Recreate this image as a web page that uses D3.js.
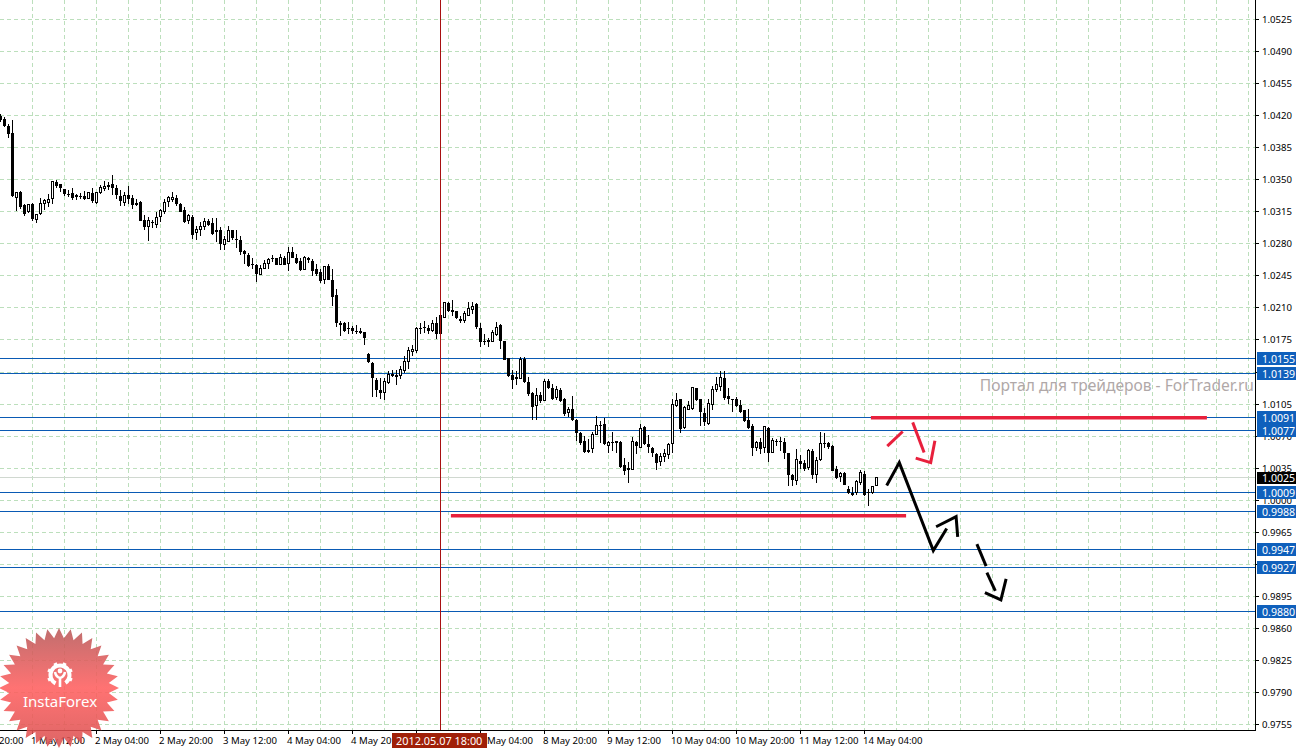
<!DOCTYPE html>
<html><head><meta charset="utf-8">
<style>html,body{margin:0;padding:0;background:#fff;overflow:hidden}text{font-family:"Noto Sans",sans-serif}</style>
<script src="https://cdn.jsdelivr.net/npm/d3@7"></script></head><body><svg id="c" width="1296" height="749"></svg>
<script>
// Prices in pips (price x 10000), one entry per H4 bar
const highs=[10422,10418,10411,10415,10336,10338,10324,10323,10325,10313,10330,10329,10334,10348,10350,10345,10340,10339,10341,10334,10335,10338,10337,10341,10336,10344,10349,10348,10355,10344,10339,10337,10343,10333,10329,10327,10312,10309,10306,10315,10318,10329,10332,10337,10333,10325,10320,10313,10311,10299,10304,10308,10307,10308,10308,10298,10288,10299,
10295,10295,10289,10273,10270,10265,10258,10257,10262,10265,10268,10265,10269,10267,10276,10276,10269,10264,10267,10266,10263,10258,10252,10256,10258,10252,10231,10196,10195,10195,10190,10191,10188,10184,10161,10151,10133,10133,10133,10141,10142,10142,10147,10158,10167,10169,10189,10194,10196,10191,10197,10200,10207,
10217,10216,10219,10207,10201,10207,10217,10216,10215,10193,10182,10177,10186,10195,10192,10174,10155,10142,10141,10156,10156,10135,10118,10122,10118,10132,10132,10127,10125,10122,10112,10102,10114,10089,10074,10070,10067,10074,10092,10086,10090,10065,10075,10065,10065,10046,10042,10069,10065,10083,10081,10071,10058,10051,10051,10056,10062,
10110,10117,10111,10103,10108,10124,10122,10111,10101,10111,10125,10135,10141,10141,10122,10111,10113,10109,10099,10100,10083,10065,10068,10081,10080,10068,10067,10069,10068,10052,10029,10056,10049,10044,10056,10056,10047,10075,10073,10064,10060,10037,10031,10031,10016,10014,10022,10033,10032,10012,10016,10025];
const lows=[10413,10408,10396,10331,10316,10318,10310,10314,10305,10303,10312,10317,10320,10323,10341,10337,10332,10331,10328,10328,10329,10328,10329,10325,10323,10334,10338,10339,10333,10329,10321,10321,10323,10318,10321,10305,10295,10283,10297,10297,10304,10313,10320,10326,10321,10315,10303,10302,10285,10284,10289,10295,10300,10290,10282,10273,10273,10282,
10284,10275,10268,10258,10255,10253,10238,10247,10252,10253,10260,10257,10257,10257,10250,10264,10258,10250,10252,10259,10245,10245,10237,10236,10240,10212,10189,10179,10184,10182,10181,10181,10181,10169,10150,10113,10113,10111,10109,10127,10134,10126,10132,10139,10143,10158,10161,10182,10183,10181,10184,10176,10181,
10199,10205,10201,10198,10194,10194,10201,10203,10187,10167,10169,10167,10173,10179,10165,10153,10134,10121,10126,10132,10128,10114,10088,10088,10106,10108,10121,10109,10109,10107,10092,10091,10087,10065,10060,10052,10052,10051,10072,10062,10060,10052,10054,10051,10035,10027,10019,10033,10050,10057,10060,10051,10047,10033,10037,10042,10045,
10052,10102,10073,10078,10098,10099,10108,10081,10081,10082,10098,10118,10119,10109,10105,10096,10102,10095,10085,10078,10048,10054,10050,10051,10042,10051,10059,10054,10045,10016,10016,10017,10034,10032,10033,10023,10019,10043,10057,10056,10032,10023,10020,10017,10007,10005,10006,10017,10005,9994,10007,10015];
const opens=[10420,10416,10409,10401,10331,10337,10322,10315,10324,10307,10313,10324,10325,10329,10347,10345,10340,10334,10335,10333,10332,10332,10330,10335,10325,10336,10340,10344,10345,10341,10332,10325,10333,10330,10325,10326,10306,10299,10304,10301,10310,10315,10326,10328,10330,10323,10317,10305,10309,10292,10296,10299,10305,10303,10293,10295,10279,10283,
10295,10285,10284,10272,10268,10258,10257,10247,10253,10258,10265,10264,10257,10265,10259,10271,10265,10261,10252,10264,10261,10252,10249,10241,10256,10241,10224,10194,10193,10188,10188,10185,10185,10184,10160,10150,10131,10120,10118,10129,10138,10137,10136,10142,10152,10162,10164,10188,10189,10188,10185,10194,10202,
10200,10215,10208,10207,10198,10196,10202,10208,10214,10188,10174,10175,10173,10181,10191,10174,10155,10137,10134,10133,10154,10129,10117,10103,10115,10109,10130,10123,10112,10120,10110,10096,10100,10088,10073,10065,10055,10056,10072,10082,10083,10060,10064,10065,10064,10038,10033,10034,10064,10058,10080,10061,10057,10050,10042,10048,10050,
10062,10103,10110,10079,10099,10100,10122,10111,10095,10084,10105,10121,10124,10133,10114,10110,10111,10104,10098,10088,10081,10057,10064,10057,10079,10052,10065,10065,10064,10052,10028,10022,10043,10041,10036,10054,10028,10044,10063,10062,10059,10034,10026,10030,10012,10008,10008,10019,10029,10009,10008,10016];
const closes=[10415,10409,10400,10332,10336,10320,10313,10323,10307,10312,10324,10327,10328,10348,10343,10341,10334,10333,10330,10331,10331,10329,10336,10327,10336,10341,10343,10342,10341,10333,10327,10333,10329,10322,10322,10305,10298,10305,10303,10309,10316,10325,10331,10331,10323,10315,10304,10311,10290,10296,10299,10304,10301,10291,10295,10280,10285,10295,
10286,10284,10271,10269,10256,10258,10247,10253,10259,10263,10263,10257,10265,10257,10271,10265,10259,10251,10265,10262,10250,10247,10239,10255,10241,10222,10194,10191,10185,10187,10185,10184,10183,10177,10151,10133,10120,10117,10130,10137,10136,10134,10143,10151,10163,10165,10188,10187,10188,10185,10193,10182,10181,
10216,10207,10205,10199,10196,10204,10209,10212,10189,10173,10173,10173,10183,10189,10174,10153,10136,10131,10132,10154,10129,10116,10102,10114,10108,10130,10122,10110,10121,10108,10094,10099,10088,10073,10063,10053,10053,10072,10082,10081,10061,10063,10063,10062,10036,10032,10035,10064,10059,10078,10061,10058,10051,10041,10048,10051,10061,
10105,10109,10078,10101,10103,10123,10109,10096,10085,10106,10121,10126,10134,10112,10110,10110,10103,10096,10087,10079,10057,10063,10056,10080,10051,10065,10065,10064,10051,10027,10022,10044,10039,10034,10054,10027,10043,10062,10062,10058,10032,10024,10029,10017,10008,10006,10020,10030,10006,10008,10015,10025];
const priceTicks=[10525,10490,10455,10420,10385,10350,10315,10280,10245,10210,10175,10140,10105,10070,10035,10000,9965,9930,9895,9860,9825,9790,9755];
const timeLabels=["30 Apr 20:00","1 May 12:00","2 May 04:00","2 May 20:00","3 May 12:00","4 May 04:00","4 May 20:00","7 May 12:00","8 May 04:00","8 May 20:00","9 May 12:00","10 May 04:00","10 May 20:00","11 May 12:00","14 May 04:00"];
const levels=[10155,10139,10091,10077,10009,9988,9947,9927,9879];
const levelLabels=["1.0155","1.0139","1.0091","1.0077","1.0009","0.9988","0.9947","0.9927","0.9880"];
const bidPrice=10025, cursorBar=110, cursorLabel="2012.05.07 18:00";
const redSegments=[{bars:[217.6,301.6],pips:[10090,10090]},{bars:[112.6,226.4],pips:[9983,9983]}];
const redArrows=[
 {bars:[221.7,225.55],pips:[10059,10075]},
 {bars:[228.05,230.9],pips:[10085,10052]},
 {bars:[228.8,232.55,233.6],pips:[10046,10041,10065]}];
const blackArrows=[
 {bars:[221.55,224.7,233.2,236.55],pips:[10016,10041,9945,9969]},
 {bars:[233.9,238.9,239.3],pips:[9971,9982,9960]},
 {bars:[244.1,246.4],pips:[9952,9928]},
 {bars:[246.6,248.7],pips:[9921,9901]},
 {bars:[246.1,250.1,251.4],pips:[9899,9891,9914]}];

const svg=d3.select("#c");
const W=1255,B=730;
const x=d3.scaleLinear().domain([0,1]).range([0.5,4.5]);
const y=d3.scaleLinear().domain([10525,9755]).range([19.5,724.5]);
const defs=svg.append("defs");
defs.append("clipPath").attr("id","plot").append("rect").attr("width",W).attr("height",B);
const lg=defs.append("linearGradient").attr("id","badge").attr("x1",0).attr("y1",0).attr("x2",0).attr("y2",1);
lg.append("stop").attr("offset","0").attr("stop-color","#b85a5a");
lg.append("stop").attr("offset","0.5").attr("stop-color","#ff5f5f");
lg.append("stop").attr("offset","1").attr("stop-color","#d85050");

// grid
const grid=svg.append("g").attr("stroke","#bcdfbc").attr("stroke-dasharray","4 3").attr("shape-rendering","crispEdges");
const gridBars=d3.range(8,W/4,8).filter(b=>b*4<=1248);
grid.selectAll("line.v").data(gridBars).join("line").attr("x1",b=>b*4+.5).attr("x2",b=>b*4+.5).attr("y1",0).attr("y2",B);
grid.selectAll("line.h").data(priceTicks).join("line").attr("x1",0).attr("x2",W).attr("y1",d=>Math.floor(y(d))+.5).attr("y2",d=>Math.floor(y(d))+.5);

// levels
const lv=svg.append("g").attr("shape-rendering","crispEdges");
lv.append("line").attr("x1",0).attr("x2",W).attr("y1",Math.floor(y(bidPrice))+.5).attr("y2",Math.floor(y(bidPrice))+.5).attr("stroke","#d0d8d0");
lv.selectAll("line.l").data(levels).join("line").attr("x1",0).attr("x2",W)
 .attr("y1",d=>Math.round(y(d))+.5).attr("y2",d=>Math.round(y(d))+.5)
 .attr("stroke","#0a5ab4");

// candles
const plot=svg.append("g").attr("clip-path","url(#plot)").attr("shape-rendering","crispEdges");
const bars=d3.range(highs.length);
const up=i=>closes[i]>opens[i];
plot.selectAll("line.w").data(bars).join("line").attr("x1",i=>x(i)).attr("x2",i=>x(i))
 .attr("y1",i=>y(highs[i])).attr("y2",i=>y(lows[i])).attr("stroke","#000");
plot.selectAll("rect.b").data(bars).join("rect")
 .attr("x",i=>up(i)?x(i)-1:x(i)-1.5).attr("width",i=>up(i)?2:3)
 .attr("y",i=>y(Math.max(opens[i],closes[i])))
 .attr("height",i=>Math.max(1,y(Math.min(opens[i],closes[i]))-y(Math.max(opens[i],closes[i]))))
 .attr("fill",i=>up(i)?"#fff":"#000").attr("stroke","#000").attr("stroke-width",i=>up(i)?1:0);

// drawn lines
const ln=d3.line().x(d=>x(d[0])).y(d=>y(d[1]));
const pts=s=>s.bars.map((b,i)=>[b,s.pips[i]]);
const dg=svg.append("g").attr("fill","none");
dg.selectAll("path.rs").data(redSegments).join("path").attr("d",s=>ln(pts(s))).attr("stroke","#e8203c").attr("stroke-width",3.4);
dg.selectAll("path.ra").data(redArrows).join("path").attr("d",s=>ln(pts(s))).attr("stroke","#e8203c").attr("stroke-width",3).attr("stroke-linejoin","miter");
dg.selectAll("path.ba").data(blackArrows).join("path").attr("d",s=>ln(pts(s))).attr("stroke","#000").attr("stroke-width",3).attr("stroke-linejoin","miter");

// crosshair
svg.append("line").attr("x1",x(cursorBar)).attr("x2",x(cursorBar)).attr("y1",0).attr("y2",B).attr("stroke","#a81010").attr("shape-rendering","crispEdges");

// axes
const ax=svg.append("g").attr("shape-rendering","crispEdges").attr("stroke","#000");
ax.append("line").attr("x1",W+.5).attr("x2",W+.5).attr("y1",0).attr("y2",B+1);
ax.append("line").attr("x1",0).attr("x2",W+1).attr("y1",B+.5).attr("y2",B+.5);
ax.selectAll("line.t").data(priceTicks).join("line").attr("x1",W).attr("x2",W+4).attr("y1",d=>Math.floor(y(d))+.5).attr("y2",d=>Math.floor(y(d))+.5);
const timeX=(d,i)=>(2*i-1)*32;
ax.selectAll("line.tx").data(timeLabels).join("line").attr("x1",(d,i)=>timeX(d,i)+.5).attr("x2",(d,i)=>timeX(d,i)+.5).attr("y1",B).attr("y2",B+4);

svg.append("g").selectAll("text").data(priceTicks).join("text")
 .attr("x",1262).attr("y",d=>y(d)+3.5).attr("font-size",9.6).attr("fill","#000")
 .text(d=>(d/10000).toFixed(4));
svg.append("g").selectAll("text").data(timeLabels).join("text")
 .attr("x",(d,i)=>timeX(d,i)-1).attr("y",743.5).attr("font-size",9.6).attr("fill","#000").text(d=>d);

// level labels
const lb=svg.append("g").selectAll("g").data(levels).join("g").attr("transform",d=>`translate(1257,${Math.round(y(d))})`);
lb.append("rect").attr("y",-6).attr("width",39).attr("height",13).attr("fill","#0f60bc");
lb.append("text").attr("x",5).attr("y",5).attr("font-size",10.6).attr("fill","#fff").text((d,i)=>levelLabels[i]);
const bidG=svg.append("g").attr("transform",`translate(1257,${Math.floor(y(bidPrice))})`);
bidG.append("rect").attr("y",-5).attr("width",39).attr("height",12).attr("fill","#000");
bidG.append("text").attr("x",5).attr("y",5).attr("font-size",10.6).attr("fill","#fff").text((bidPrice/10000).toFixed(4));

// cursor time label
svg.append("rect").attr("x",392).attr("y",733).attr("width",95).attr("height",15).attr("fill","#a02008");
svg.append("text").attr("x",396).attr("y",745).attr("font-size",10.9).attr("fill","#fff").text(cursorLabel);

// watermark
svg.append("text").attr("x",1254).attr("y",391).attr("text-anchor","end").attr("font-size",15.6).attr("fill","#b0a8a8").attr("font-family","DejaVu Sans").text("Портал для трейдеров - ForTrader.ru");

// badge
const badge=svg.append("g").attr("transform","translate(59,688)");
const N=32, star=d3.range(N*2).map(i=>{const r=i%2?50:60,a=i*Math.PI/N;return [r*Math.sin(a),-r*Math.cos(a)]});
badge.append("path").attr("d","M"+star.join("L")+"Z").attr("fill","url(#badge)").attr("fill-opacity",.88);
const gear=badge.append("g").attr("transform","translate(1,-13)").attr("fill","none").attr("stroke","#fff");
gear.append("circle").attr("r",9.5).attr("stroke-width",4).attr("stroke-dasharray","49 11").attr("transform","rotate(118)");
gear.selectAll("line").data(d3.range(8)).join("line").attr("x1",0).attr("x2",0).attr("y1",-10).attr("y2",-13).attr("stroke-width",3.4)
  .attr("transform",d=>`rotate(${d*45+22.5})`).filter(d=>d===3||d===4).remove();
gear.append("circle").attr("cy",-4).attr("r",2.4).attr("fill","#fff").attr("stroke","none");
gear.append("path").attr("d","M-5,-3Q-4,2 0,3L0,12M5,-3Q4,2 0,3").attr("stroke-width",2.6);
badge.append("text").attr("x",1).attr("y",19).attr("text-anchor","middle").attr("font-size",15).attr("fill","#fff").attr("font-family","Open Sans").text("InstaForex");
</script></body></html>
